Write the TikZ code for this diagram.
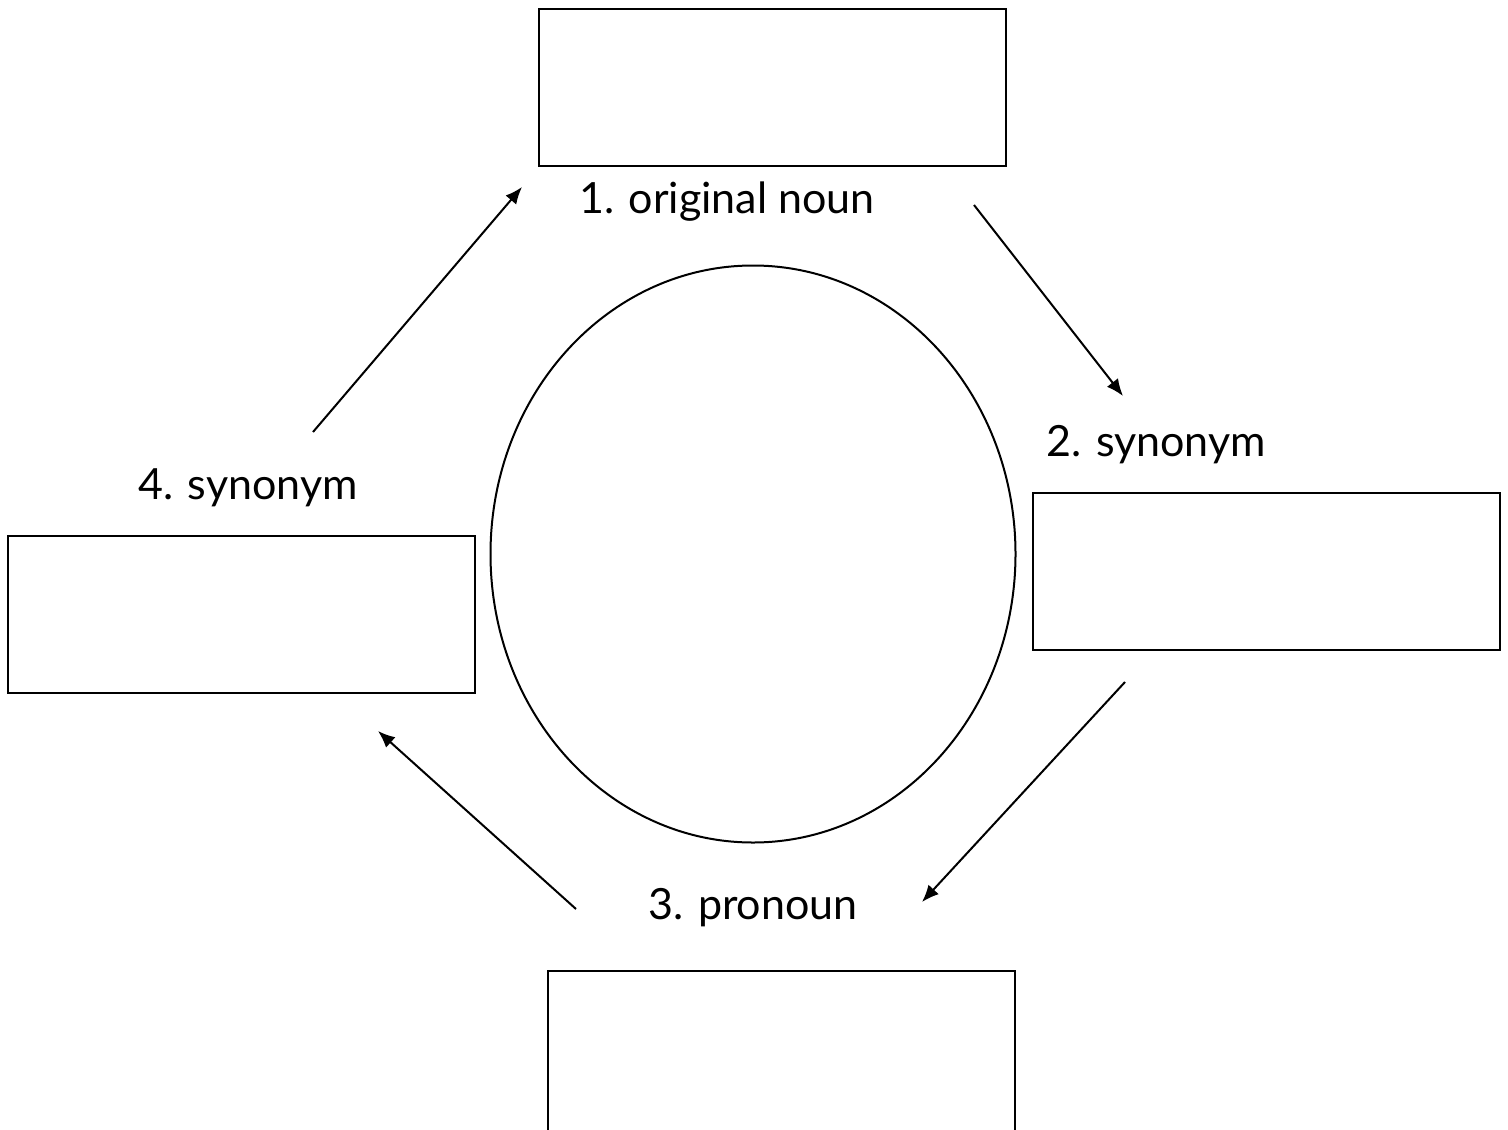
\documentclass[tikz,border=0pt]{standalone}
\usepackage{fontspec}
\setmainfont{Lato}
\usetikzlibrary{arrows.meta,shapes.geometric}
\begin{document}
\begin{tikzpicture}[x=0.5pt,y=-0.5pt,
  box/.style={draw, line width=1pt, minimum width=233.5pt, minimum height=78.5pt, inner sep=0pt},
  lbl/.style={font=\fontsize{21.5}{26}\selectfont, inner sep=0pt},
  arr/.style={line width=1pt, -{Latex[length=8.5pt,width=7pt]}}]
\useasboundingbox (0,0) rectangle (1508,1129);
\node[box] (b1) at (772.5,87.5) {};
\node[box] (b2) at (1266,571.5) {};
\node[box] (b4) at (241.5,614) {};
\node[box, minimum height=90pt] (b3) at (781.5,1061) {};
\node[draw, line width=1pt, ellipse, minimum width=262.5pt, minimum height=288.5pt, inner sep=0pt] (c) at (753,554) {};
\node[lbl] (l1) at (727,202) {1. original noun};
\node[lbl] (l2) at (1156,445) {2. synonym};
\node[lbl] (l4) at (248,488) {4. synonym};
\node[lbl] (l3) at (753,908) {3. pronoun};
\coordinate (a1s) at (313,432); \coordinate (a1e) at (522,187);
\coordinate (a2s) at (974,205); \coordinate (a2e) at (1123,396);
\coordinate (a3s) at (1125,682); \coordinate (a3e) at (922,902);
\coordinate (a4s) at (576,909); \coordinate (a4e) at (378,731);
\draw[arr] (a1s) -- (a1e);
\draw[arr] (a2s) -- (a2e);
\draw[arr] (a3s) -- (a3e);
\draw[arr] (a4s) -- (a4e);
\end{tikzpicture}
\end{document}
